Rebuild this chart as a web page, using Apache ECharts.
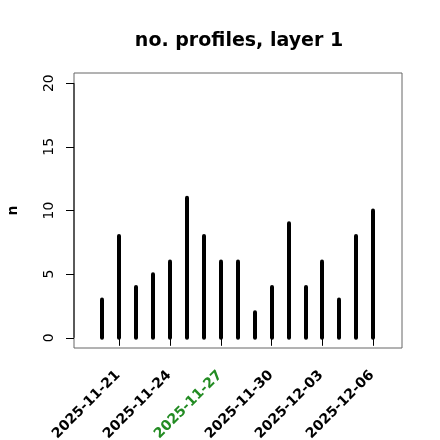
<!DOCTYPE html>
<html>
<head>
<meta charset="utf-8">
<script src="https://cdn.jsdelivr.net/npm/echarts@6/dist/echarts.min.js"></script>
<style>html,body{margin:0;padding:0;background:#fff}#c{width:440px;height:440px}</style>
</head>
<body>
<div id="c"></div>
<script>
var dates = ['2025-11-20','2025-11-21','2025-11-22','2025-11-23','2025-11-24','2025-11-25','2025-11-26','2025-11-27','2025-11-28','2025-11-29','2025-11-30','2025-12-01','2025-12-02','2025-12-03','2025-12-04','2025-12-05','2025-12-06'];
var counts = [3, 8, 4, 5, 6, 11, 8, 6, 6, 2, 4, 9, 4, 6, 3, 8, 10];
var xTickLabels = ['2025-11-21','2025-11-24','2025-11-27','2025-11-30','2025-12-03','2025-12-06'];
var highlightLabel = '2025-11-27';
var yTicks = [0, 5, 10, 15, 20];
var titleText = 'no. profiles, layer 1';
var yName = 'n';

var DAY = 86400000;
function dayNum(s){ return Date.parse(s + 'T00:00:00Z') / DAY; }

var xMin = dayNum('2025-11-21') - 2.68;
var xMax = dayNum('2025-12-06') + 1.70;
var yMin = -0.8, yMax = 20.8;

var barData = dates.map(function(d, i){ return [dayNum(d), counts[i]]; });
var labelData = xTickLabels.map(function(d){ return [dayNum(d), yMin]; });
var font = 'DejaVu Sans';

var chart = echarts.init(document.getElementById('c'), null, {renderer: 'canvas'});
chart.setOption({
  animation: false,
  backgroundColor: '#fff',
  title: {
    text: titleText, left: 234, top: 27, textAlign: 'center',
    textStyle: {fontFamily: font, fontWeight: 'bold', fontSize: 19, color: '#000'}
  },
  grid: {left: 74, right: 38, top: 73, bottom: 92, show: true, borderColor: '#666', borderWidth: 1,
    backgroundColor: 'transparent', containLabel: false, outerBoundsMode: 'none'},
  xAxis: {
    type: 'value', min: xMin, max: xMax,
    splitLine: {show: false},
    axisLine: {show: false},
    axisTick: {show: true, length: 8, lineStyle: {color: '#000'}, customValues: xTickLabels.map(dayNum)},
    axisLabel: {show: false}
  },
  yAxis: {
    type: 'value', min: yMin, max: yMax,
    name: yName, nameLocation: 'middle', nameGap: 54, nameRotate: 90,
    nameTextStyle: {fontFamily: font, fontWeight: 'bold', fontSize: 14, color: '#000'},
    splitLine: {show: false},
    axisLine: {show: false},
    axisTick: {show: true, length: 8, lineStyle: {color: '#000'}, customValues: yTicks},
    axisLabel: {show: true, rotate: 90, margin: 18, fontFamily: font, fontSize: 14, color: '#000', customValues: yTicks}
  },
  series: [
    {
      type: 'custom', clip: false, silent: true,
      data: [[xMin, yTicks[0], yTicks[yTicks.length - 1]]],
      renderItem: function(params, api){
        var a = api.coord([api.value(0), api.value(1)]);
        var b = api.coord([api.value(0), api.value(2)]);
        return {type: 'line', shape: {x1: a[0], y1: a[1], x2: b[0], y2: b[1]}, style: {stroke: '#000', lineWidth: 1}};
      }
    },
    {
      type: 'custom',
      data: barData,
      renderItem: function(params, api){
        var p0 = api.coord([api.value(0), 0]);
        var p1 = api.coord([api.value(0), api.value(1)]);
        return {type: 'line', shape: {x1: Math.round(p0[0]), y1: p0[1], x2: Math.round(p1[0]), y2: p1[1]},
          style: {stroke: '#000', lineWidth: 4, lineCap: 'round'}};
      }
    },
    {
      type: 'custom', clip: false, silent: true,
      data: labelData,
      renderItem: function(params, api){
        var p = api.coord([api.value(0), api.value(1)]);
        var s = xTickLabels[params.dataIndex];
        return {type: 'text', x: Math.round(p[0]) - 1, y: Math.round(p[1]) + 25, rotation: Math.PI / 4,
          style: {text: s, fill: s === highlightLabel ? 'forestgreen' : '#000',
            fontFamily: font, fontWeight: 'bold', fontSize: 14, align: 'right', verticalAlign: 'middle'}};
      }
    }
  ]
});
</script>
</body>
</html>
